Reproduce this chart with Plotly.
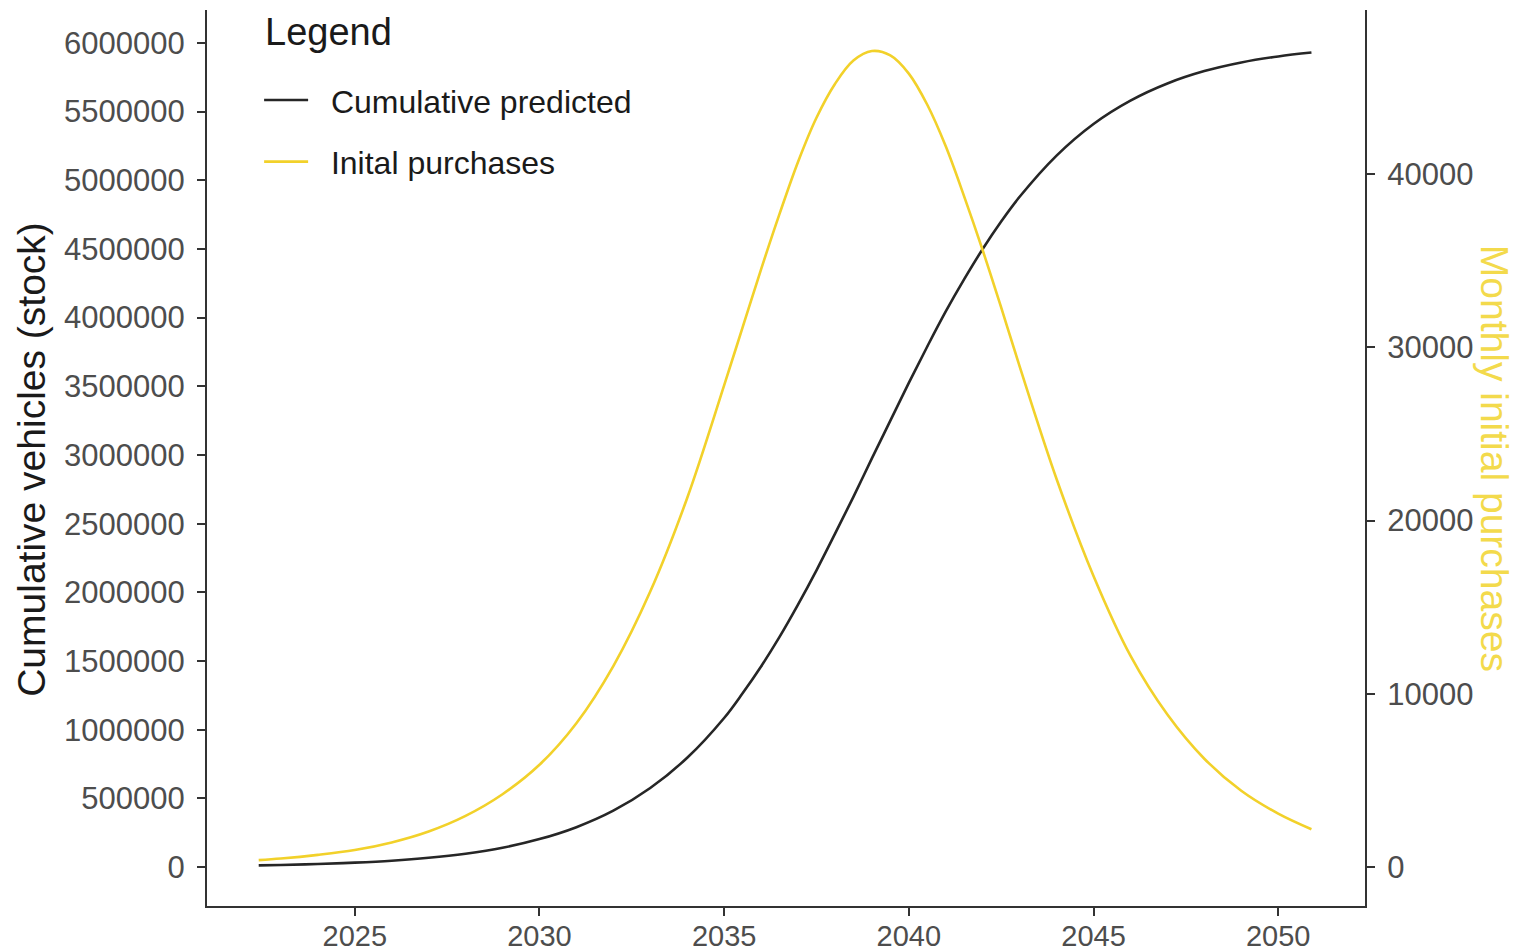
import plotly.graph_objects as go

# Forecast horizon (decimal years); half-year steps around the purchase peak
years = [2022.4, 2023, 2024, 2025, 2026, 2027, 2028, 2029, 2030, 2031, 2032,
         2033, 2034, 2035, 2035.5, 2036, 2036.5, 2037, 2037.5, 2038, 2038.5,
         2039, 2039.5, 2040, 2040.5, 2041, 2041.5, 2042, 2042.5, 2043,
         2044, 2045, 2046, 2047, 2048, 2049, 2050, 2050.9]

# Cumulative vehicle stock (left axis)
cumulative_predicted = [12000, 15000, 22000, 32000, 46000, 67000, 97000, 140000,
                        203000, 290000, 410000, 575000, 795000, 1085000, 1265000,
                        1460000, 1675000, 1910000, 2160000, 2425000, 2695000,
                        2975000, 3250000, 3525000, 3790000, 4045000, 4280000,
                        4500000, 4700000, 4880000, 5180000, 5410000, 5580000,
                        5705000, 5795000, 5858000, 5902000, 5930000]

# Monthly initial purchases (right axis)
initial_purchases = [400, 490, 700, 980, 1420, 2050, 2950, 4200, 5900, 8300,
                     11600, 15900, 21300, 27800, 31150, 34500, 37700, 40700,
                     43250, 45200, 46550, 47100, 46850, 45800, 44000, 41600,
                     38700, 35600, 32300, 28900, 22400, 16800, 12200, 8800,
                     6250, 4400, 3080, 2180]

x_ticks = [2025, 2030, 2035, 2040, 2045, 2050]
left_ticks = list(range(0, 6000001, 500000))
right_ticks = [0, 10000, 20000, 30000, 40000]

FONT = "Liberation Sans, Arial, sans-serif"
TICK_COLOR = "#4d4d4d"
AXIS_COLOR = "#333333"
GOLD = "#F2D12A"
PAD = "\u00a0\u00a0"

fig = go.Figure()
fig.add_trace(go.Scatter(
    x=years, y=cumulative_predicted, name=PAD + "Cumulative predicted",
    mode="lines", line=dict(color="#262626", width=2.6, shape="spline"),
    legendgroup="a", yaxis="y"))
fig.add_trace(go.Scatter(
    x=years, y=initial_purchases, name=PAD + "Inital purchases",
    mode="lines", line=dict(color=GOLD, width=2.6, shape="spline"),
    legendgroup="b", yaxis="y2"))

axis_common = dict(
    showline=True, linecolor=AXIS_COLOR, linewidth=2.2,
    ticks="outside", ticklen=8, tickwidth=2, tickcolor=AXIS_COLOR,
    showgrid=False, zeroline=False, automargin=False,
)
tick_font = dict(family=FONT, size=31, color=TICK_COLOR)

fig.update_layout(
    width=1519, height=952,
    margin=dict(l=207, r=154, t=10, b=46),
    paper_bgcolor="white", plot_bgcolor="white",
    font=dict(family=FONT),
    xaxis=dict(range=[2021.0, 2052.35], tickvals=x_ticks,
               ticklabelstandoff=-5,
               tickfont=dict(family=FONT, size=29, color=TICK_COLOR),
               **axis_common),
    yaxis=dict(range=[-284000, 6240000], tickvals=left_ticks,
               tickformat="d", ticklabelstandoff=6, tickfont=tick_font,
               **axis_common),
    yaxis2=dict(range=[-2250, 49470], tickvals=right_ticks, tickformat="d",
                overlaying="y", side="right", ticklabelstandoff=6,
                tickfont=tick_font, **axis_common),
    legend=dict(
        x=0.045, y=0.93, xanchor="left", yanchor="top",
        bgcolor="rgba(0,0,0,0)", borderwidth=0,
        font=dict(family=FONT, size=32, color="#1a1a1a"),
        traceorder="grouped", tracegroupgap=17, itemwidth=44,
    ),
    annotations=[
        dict(text="Legend", xref="paper", yref="paper",
             x=(263 - 207) / 1158, y=1 - (32 - 10) / 896,
             xanchor="left", yanchor="middle", showarrow=False,
             font=dict(family=FONT, size=38, color="#1a1a1a")),
        dict(text="Cumulative vehicles (stock)", xref="paper", yref="paper",
             x=-0.1511, y=0.498, xanchor="center", yanchor="middle",
             textangle=-90, showarrow=False,
             font=dict(family=FONT, size=39, color="#1a1a1a")),
        dict(text="Monthly initial purchases", xref="paper", yref="paper",
             x=1.112, y=0.4994, xanchor="center", yanchor="middle",
             textangle=90, showarrow=False,
             font=dict(family=FONT, size=39, color="#F3DA4C")),
    ],
)

fig.write_html("out.html")
